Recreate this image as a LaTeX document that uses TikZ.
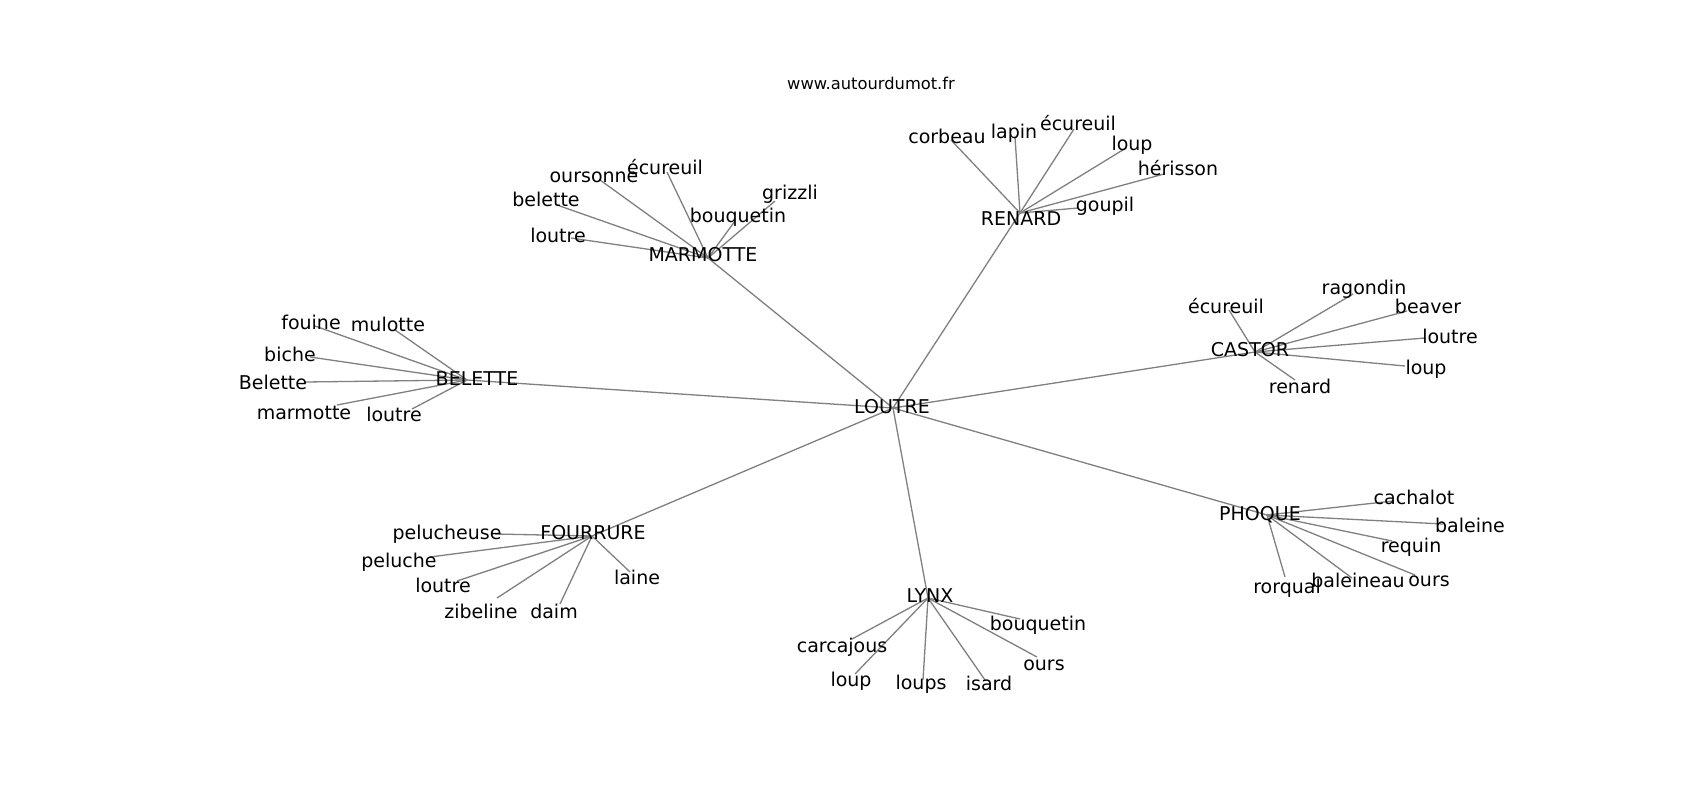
\documentclass[tikz,border=0pt]{standalone}
\usepackage{fontspec}
\setmainfont{DejaVu Sans}
\tikzset{
  lbl/.style={inner sep=0pt, font=\fontsize{19}{22}\selectfont, text height=0.79em, text depth=0.24em, anchor=center, yshift=-4.5pt},
  hublbl/.style={inner sep=0pt, font=\fontsize{19}{22}\selectfont, text height=0.97em, text depth=0.24em, anchor=center, yshift=-4pt},
  ttl/.style={inner sep=0pt, font=\fontsize{16.3}{20}\selectfont},
  edge/.style={draw=black!50, line width=1.3pt}
}
\begin{document}
\begin{tikzpicture}[x=1pt,y=-1pt]
\useasboundingbox[fill=white] (0,0) rectangle (1700,800);
% hub points
\coordinate (LOUTREh) at (893,408);
\coordinate (MARMOTTEh) at (708,258);
\coordinate (RENARDh) at (1020,213);
\coordinate (CASTORh) at (1255,352);
\coordinate (BELETTEh) at (467,380);
\coordinate (FOURRUREh) at (592,536);
\coordinate (LYNXh) at (928,598);
\coordinate (PHOQUEh) at (1267,515);
% leaf points
\coordinate (m1) at (600,180); \coordinate (m2) at (667,172); \coordinate (m3) at (557,205);
\coordinate (m4) at (571,238); \coordinate (m5) at (735,221); \coordinate (m6) at (775,201);
\coordinate (r1) at (951,140); \coordinate (r2) at (1015,137); \coordinate (r3) at (1074,129);
\coordinate (r4) at (1126,148); \coordinate (r5) at (1164,174); \coordinate (r6) at (1078,208);
\coordinate (c1) at (1229,310); \coordinate (c2) at (1353,294); \coordinate (c3) at (1407,311);
\coordinate (c4) at (1425,338); \coordinate (c5) at (1405,366); \coordinate (c6) at (1295,380);
\coordinate (b1) at (315,326); \coordinate (b2) at (395,330); \coordinate (b3) at (310,357);
\coordinate (b4) at (305,382); \coordinate (b5) at (337,405); \coordinate (b6) at (412,409);
\coordinate (f1) at (495,534); \coordinate (f2) at (430,557); \coordinate (f3) at (457,581);
\coordinate (f4) at (497,598); \coordinate (f5) at (560,604); \coordinate (f6) at (630,572);
\coordinate (l1) at (852,639); \coordinate (l2) at (855,674); \coordinate (l3) at (923,680);
\coordinate (l4) at (985,680); \coordinate (l5) at (1037,657); \coordinate (l6) at (1020,619);
\coordinate (p1) at (1393,501); \coordinate (p2) at (1443,524); \coordinate (p3) at (1392,541);
\coordinate (p4) at (1415,575); \coordinate (p5) at (1352,578); \coordinate (p6) at (1285,577);
% edges
\foreach \h in {MARMOTTEh,RENARDh,CASTORh,BELETTEh,FOURRUREh,LYNXh,PHOQUEh}
  \draw[edge] (LOUTREh) -- (\h);
\foreach \i in {1,...,6} {
  \draw[edge] (MARMOTTEh) -- (m\i);
  \draw[edge] (RENARDh) -- (r\i);
  \draw[edge] (CASTORh) -- (c\i);
  \draw[edge] (BELETTEh) -- (b\i);
  \draw[edge] (FOURRUREh) -- (f\i);
  \draw[edge] (LYNXh) -- (l\i);
  \draw[edge] (PHOQUEh) -- (p\i);
}
% title
\node[ttl] (title) at (871,83) {www.autourdumot.fr};
% hub labels
\node[hublbl] (LOUTRE) at (892,406) {LOUTRE};
\node[hublbl] (MARMOTTE) at (703,254) {MARMOTTE};
\node[hublbl] (RENARD) at (1021,218) {RENARD};
\node[hublbl] (CASTOR) at (1250,349) {CASTOR};
\node[hublbl] (BELETTE) at (477,378) {BELETTE};
\node[hublbl] (FOURRURE) at (593,532) {FOURRURE};
\node[hublbl] (LYNX) at (930,595) {LYNX};
\node[hublbl] (PHOQUE) at (1260,513) {PHOQUE};
% leaf labels
\node[lbl] (tm1) at (594,175) {oursonne};
\node[lbl] (tm2) at (665,167) {écureuil};
\node[lbl] (tm3) at (546,199) {belette};
\node[lbl] (tm4) at (558,235) {loutre};
\node[lbl] (tm5) at (738,215) {bouquetin};
\node[lbl] (tm6) at (790,192) {grizzli};
\node[lbl] (tr1) at (947,136) {corbeau};
\node[lbl] (tr2) at (1014,131) {lapin};
\node[lbl] (tr3) at (1078,123) {écureuil};
\node[lbl] (tr4) at (1132,143) {loup};
\node[lbl] (tr5) at (1178,168) {hérisson};
\node[lbl] (tr6) at (1105,204) {goupil};
\node[lbl] (tc1) at (1226,306) {écureuil};
\node[lbl] (tc2) at (1364,287) {ragondin};
\node[lbl] (tc3) at (1428,306) {beaver};
\node[lbl] (tc4) at (1450,336) {loutre};
\node[lbl] (tc5) at (1426,367) {loup};
\node[lbl] (tc6) at (1300,386) {renard};
\node[lbl] (tb1) at (311,322) {fouine};
\node[lbl] (tb2) at (388,324) {mulotte};
\node[lbl] (tb3) at (290,354) {biche};
\node[lbl] (tb4) at (273,382) {Belette};
\node[lbl] (tb5) at (304,412) {marmotte};
\node[lbl] (tb6) at (394,414) {loutre};
\node[lbl] (tf1) at (447,532) {pelucheuse};
\node[lbl] (tf2) at (399,560) {peluche};
\node[lbl] (tf3) at (443,585) {loutre};
\node[lbl] (tf4) at (481,611) {zibeline};
\node[lbl] (tf5) at (554,611) {daim};
\node[lbl] (tf6) at (637,577) {laine};
\node[lbl] (tl1) at (842,645) {carcajous};
\node[lbl] (tl2) at (851,679) {loup};
\node[lbl] (tl3) at (921,682) {loups};
\node[lbl] (tl4) at (989,683) {isard};
\node[lbl] (tl5) at (1044,663) {ours};
\node[lbl] (tl6) at (1038,623) {bouquetin};
\node[lbl] (tp1) at (1414,497) {cachalot};
\node[lbl] (tp2) at (1470,525) {baleine};
\node[lbl] (tp3) at (1411,545) {requin};
\node[lbl] (tp4) at (1429,579) {ours};
\node[lbl] (tp5) at (1358,580) {baleineau};
\node[lbl] (tp6) at (1287,586) {rorqual};
\end{tikzpicture}
\end{document}
